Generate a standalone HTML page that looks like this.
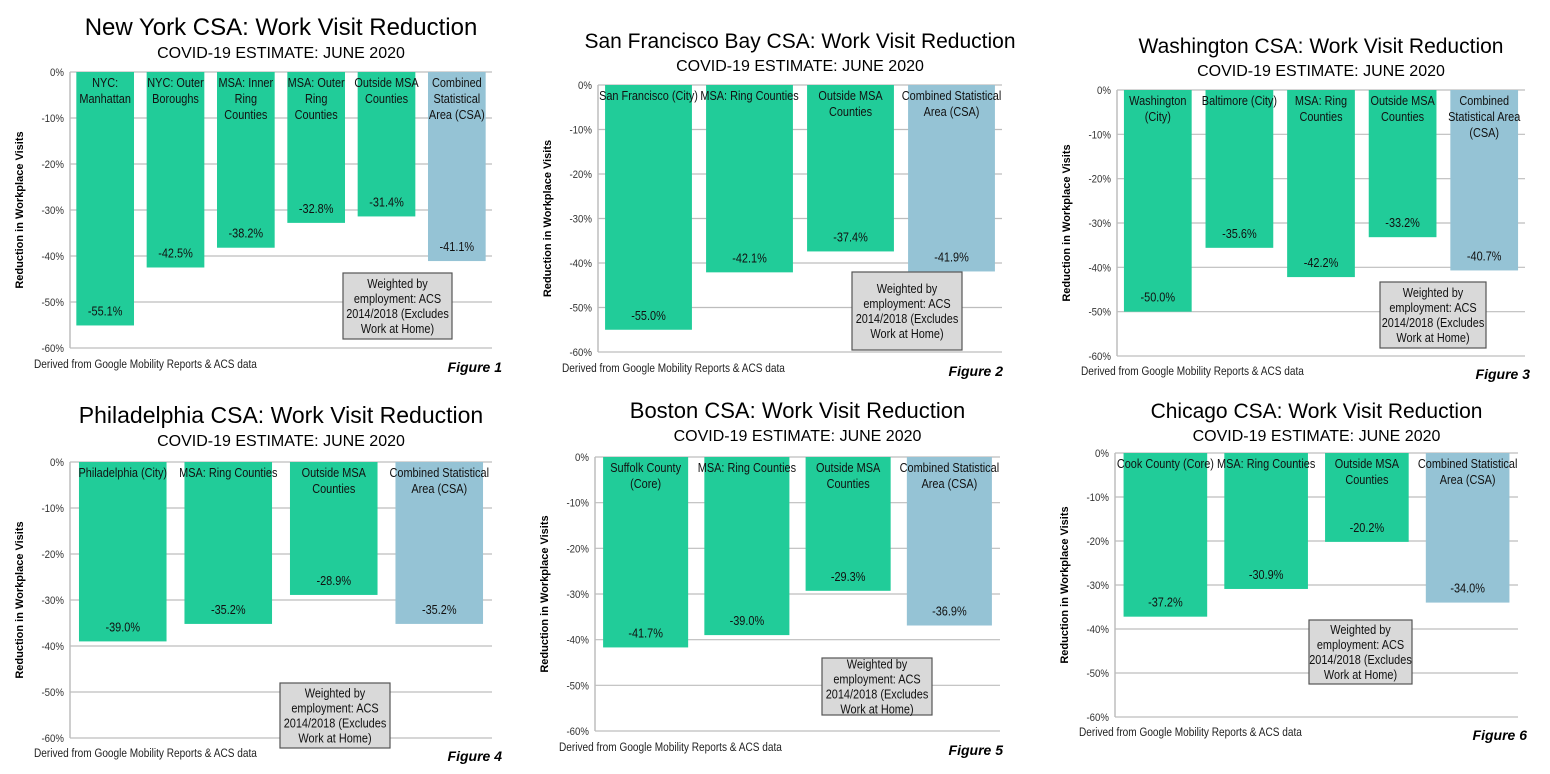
<!DOCTYPE html>
<html><head><meta charset="utf-8">
<style>
html,body{margin:0;padding:0;background:#fff;}
svg{display:block;font-family:"Liberation Sans",Arial,sans-serif;}
</style></head>
<body>
<svg id="chart" width="1550" height="774" viewBox="0 0 1550 774"></svg>
<script>
const yTicks = [0,-10,-20,-30,-40,-50,-60];
const yTickLabels = ["0%","-10%","-20%","-30%","-40%","-50%","-60%"];

const nyCategories = ["NYC:\nManhattan","NYC: Outer\nBoroughs","MSA: Inner\nRing\nCounties","MSA: Outer\nRing\nCounties","Outside MSA\nCounties","Combined\nStatistical\nArea (CSA)"];
const nyValues = [-55.1,-42.5,-38.2,-32.8,-31.4,-41.1];
const sfCategories = ["San Francisco (City)","MSA: Ring Counties","Outside MSA\nCounties","Combined Statistical\nArea (CSA)"];
const sfValues = [-55.0,-42.1,-37.4,-41.9];
const dcCategories = ["Washington\n(City)","Baltimore (City)","MSA: Ring\nCounties","Outside MSA\nCounties","Combined\nStatistical Area\n(CSA)"];
const dcValues = [-50.0,-35.6,-42.2,-33.2,-40.7];
const phCategories = ["Philadelphia (City)","MSA: Ring Counties","Outside MSA\nCounties","Combined Statistical\nArea (CSA)"];
const phValues = [-39.0,-35.2,-28.9,-35.2];
const boCategories = ["Suffolk County\n(Core)","MSA: Ring Counties","Outside MSA\nCounties","Combined Statistical\nArea (CSA)"];
const boValues = [-41.7,-39.0,-29.3,-36.9];
const chCategories = ["Cook County (Core)","MSA: Ring Counties","Outside MSA\nCounties","Combined Statistical\nArea (CSA)"];
const chValues = [-37.2,-30.9,-20.2,-34.0];

const panels = [
 {id:"new-york",title:"New York CSA: Work Visit Reduction",cats:nyCategories,vals:nyValues,x0:70,x1:492,y0:72,y1:348,ty:27,bw:0.82,note:[343,273,109,66],fig:"Figure 1",fx:502,fy:372,foot:368,tfs:24},
 {id:"san-francisco",title:"San Francisco Bay CSA: Work Visit Reduction",cats:sfCategories,vals:sfValues,x0:598,x1:1002,y0:85,y1:352,ty:40,bw:0.86,note:[852,272,110,78],fig:"Figure 2",fx:1003,fy:376,foot:372,tfs:21},
 {id:"washington",title:"Washington CSA: Work Visit Reduction",cats:dcCategories,vals:dcValues,x0:1117,x1:1525,y0:90,y1:356,ty:45,bw:0.83,note:[1380,282,106,66],fig:"Figure 3",fx:1530,fy:379,foot:375,tfs:21},
 {id:"philadelphia",title:"Philadelphia CSA: Work Visit Reduction",cats:phCategories,vals:phValues,x0:70,x1:492,y0:462,y1:738,ty:415,bw:0.83,note:[280,683,110,65],fig:"Figure 4",fx:502,fy:761,foot:757,tfs:23},
 {id:"boston",title:"Boston CSA: Work Visit Reduction",cats:boCategories,vals:boValues,x0:595,x1:1000,y0:457,y1:731,ty:410,bw:0.84,note:[822,658,110,57],fig:"Figure 5",fx:1003,fy:755,foot:751,tfs:22},
 {id:"chicago",title:"Chicago CSA: Work Visit Reduction",cats:chCategories,vals:chValues,x0:1115,x1:1518,y0:453,y1:717,ty:410,bw:0.83,note:[1309,620,103,64],fig:"Figure 6",fx:1527,fy:740,foot:736,tfs:21}
];

const NS="http://www.w3.org/2000/svg";
const svg=document.getElementById("chart");
function mk(tag,attrs,parent,text){
  const e=document.createElementNS(NS,tag);
  for(const k in attrs)e.setAttribute(k,attrs[k]);
  if(text!==undefined)e.textContent=text;
  parent.appendChild(e);return e;
}
function narrow(x,y,attrs,parent,text){
  const a=Object.assign({x:0,y:0,transform:`translate(${x},${y}) scale(0.84,1)`},attrs);
  return mk("text",a,parent,text);
}
panels.forEach(p=>{
  const g=mk("g",{},svg);
  
  
  const cx=(p.x0+p.x1)/2;
  const t=mk("text",{x:cx,y:p.ty+8,"text-anchor":"middle","font-size":p.tfs,fill:"#000"},g,p.title);
  
  
  const st=mk("text",{x:cx,y:p.ty+31,"text-anchor":"middle","font-size":16,fill:"#000"},g,"COVID-19 ESTIMATE: JUNE 2020");
  
  
  const ys=v=>p.y0+(v/-60)*(p.y1-p.y0);
  const n=p.cats.length, cw=(p.x1-p.x0)/n;
  const xs=i=>p.x0+cw*(i+0.5);
  yTicks.forEach((v,i)=>{
    const l=mk("line",{x1:p.x0,x2:p.x1,y1:ys(v),y2:ys(v),stroke:"#bdbdbd","stroke-width":1.2},g);
    
    
    const tl=narrow(p.x0-6,ys(v)+4,{"text-anchor":"end","font-size":11.5,fill:"#333"},g,yTickLabels[i]);
    
    
  });
  const ax=mk("line",{x1:p.x0,x2:p.x0,y1:p.y0,y2:p.y1,stroke:"#bdbdbd","stroke-width":1.5},g);
  
  
  const yt=mk("text",{x:0,y:0,transform:`translate(${p.x0-47},${(p.y0+p.y1)/2}) rotate(-90)`,"text-anchor":"middle","font-size":11,"font-weight":"bold",fill:"#000"},g,"Reduction in Workplace Visits");
  
  
  p.vals.forEach((v,i)=>{
    const bw=cw*p.bw, x=xs(i)-bw/2;
    const last=i===n-1;
    const r=mk("rect",{x:x,y:ys(0),width:bw,height:ys(v)-ys(0),fill:last?"#95c3d5":"#21cc99"},g);
    
    
    const lines=p.cats[i].split("\n");
    lines.forEach((ln,j)=>{
      const c=narrow(xs(i),ys(0)+15+j*16,{"text-anchor":"middle","font-size":13,fill:"#111"},g,ln);
      
      
    });
    const vl=narrow(xs(i),ys(v)-10,{"text-anchor":"middle","font-size":13,fill:"#111"},g,v.toFixed(1)+"%");
    
    
  });
  const [nx,ny,nw,nh]=p.note;
  const nb=mk("rect",{x:nx,y:ny,width:nw,height:nh,fill:"#d9d9d9",stroke:"#555","stroke-width":1.2},g);
  
  
  ["Weighted by","employment: ACS","2014/2018 (Excludes","Work at Home)"].forEach((ln,j)=>{
    const tt=narrow(nx+nw/2,ny+nh/2-18+j*15,{"text-anchor":"middle","font-size":13,fill:"#111"},g,ln);
    
    
  });
  const ft=narrow(p.x0-36,p.foot,{"font-size":12,fill:"#222"},g,"Derived from Google Mobility Reports & ACS data");
  
  
  const fg=mk("text",{x:p.fx,y:p.fy,"text-anchor":"end","font-size":14,"font-weight":"bold","font-style":"italic",fill:"#000"},g,p.fig);
  
  
});
</script>
</body></html>
